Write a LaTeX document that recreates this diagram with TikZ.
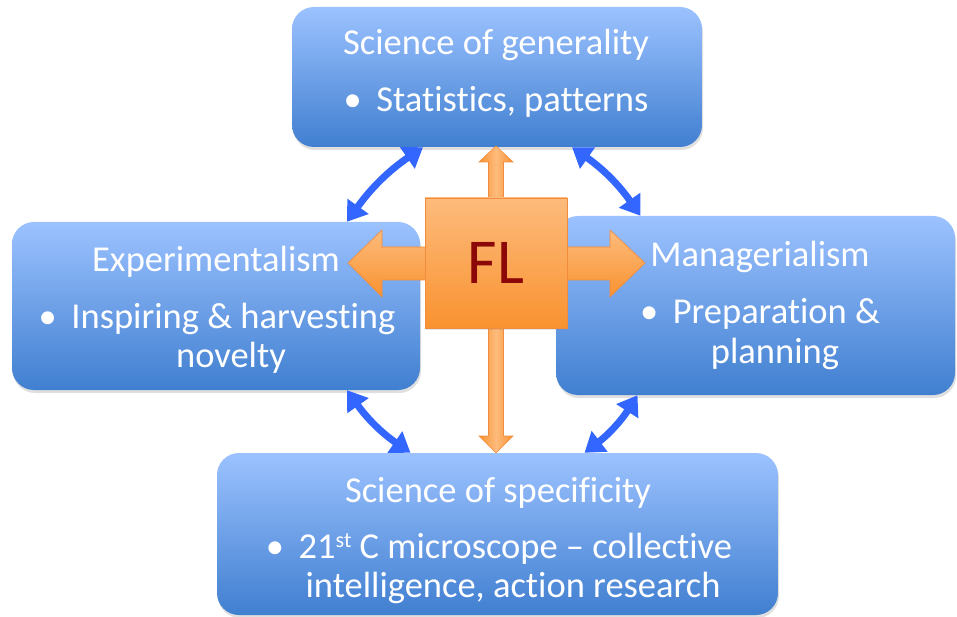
\documentclass[tikz,border=0pt]{standalone}
\usepackage{fontspec}
\setmainfont{Carlito}[Ligatures=NoCommon]
\usetikzlibrary{arrows.meta,shadows}
\definecolor{boxtop}{RGB}{156,194,255}
\definecolor{boxbot}{RGB}{64,127,208}
\definecolor{linkblue}{RGB}{51,102,255}
\definecolor{orlight}{RGB}{253,187,124}
\definecolor{ordark}{RGB}{249,146,48}
\definecolor{oredge}{RGB}{240,140,60}
\definecolor{fltext}{RGB}{140,8,8}
\begin{document}
\begin{tikzpicture}[x=1pt,y=-1pt,
  box/.style={rounded corners=22pt, top color=boxtop, bottom color=boxbot, draw=none,
    drop shadow={opacity=0.25, shadow xshift=1pt, shadow yshift=-3pt}, inner sep=0pt},
  txt/.style={text=white, font=\fontsize{36.5}{39}\selectfont, anchor=base, inner sep=0pt},
  link/.style={draw=linkblue, line width=7pt,
    {Triangle[length=19pt,width=25pt]}-{Triangle[length=19pt,width=25pt]}},
  orarrow/.style={draw=oredge, line width=0.6pt}]
\useasboundingbox (0,0) rectangle (957,617);

% boxes
\node[box, minimum width=410pt, minimum height=140pt] (T) at (497,77) {};
\node[box, minimum width=408pt, minimum height=168pt] (L) at (216,306) {};
\node[box, minimum width=399pt, minimum height=179pt] (R) at (755.5,305.5) {};
\node[box, minimum width=561pt, minimum height=162pt] (B) at (497.5,534) {};

% texts
\node[txt] (t1) at (496,55) {Science of generality};
\node[txt] (t2) at (496,112) {•\hspace{0.4em}Statistics, patterns};
\node[txt] (l1) at (216,272) {Experimentalism};
\node[txt] (l2) at (217,328) {•\hspace{0.4em}Inspiring \& harvesting};
\node[txt] (l3) at (231,367) {novelty};
\node[txt] (r1) at (760,267) {Managerialism};
\node[txt] (r2) at (760,323) {•\hspace{0.4em}Preparation \&};
\node[txt] (r3) at (775,363) {planning};
\node[txt] (b1) at (498,502) {Science of specificity};
\node[txt] (b2) at (499,558) {•\hspace{0.4em}21\raisebox{0.3em}{\fontsize{22}{22}\selectfont st} C microscope – collective};
\node[txt] (b3) at (513,597) {intelligence, action research};

% blue links
\draw[link] ([xshift=131pt]L.north) to[bend left=10] ([xshift=-74pt]T.south);
\draw[link] ([xshift=75pt]T.south) to[bend left=10] ([xshift=-115pt]R.north);
\draw[link] ([xshift=-118pt]R.south) to[bend left=10] ([xshift=87pt]B.north);
\draw[link] ([xshift=-87pt]B.north) to[bend left=10] ([xshift=131pt]L.south);

% orange arrows
\path[orarrow, top color=orlight, bottom color=ordark]
  (348,263) -- (382,230) -- (382,247) -- (610,247) -- (610,230) -- (645,263)
  -- (610,297) -- (610,280) -- (382,280) -- (382,297) -- cycle;
\path[orarrow, left color=ordark, right color=ordark, middle color=orlight]
  (496,146) -- (513,162) -- (503.5,162) -- (503.5,436) -- (513,436) -- (496,453)
  -- (479,436) -- (488.5,436) -- (488.5,162) -- (479,162) -- cycle;

% FL square
\node[draw=oredge, line width=0.6pt, top color=orlight, bottom color=ordark,
  minimum width=142pt, minimum height=130pt, text=fltext,
  font=\fontsize{64}{64}\selectfont,
  drop shadow={opacity=0.2, shadow xshift=1pt, shadow yshift=-2pt}] (FL) at (496,263) {FL};
\end{tikzpicture}
\end{document}
